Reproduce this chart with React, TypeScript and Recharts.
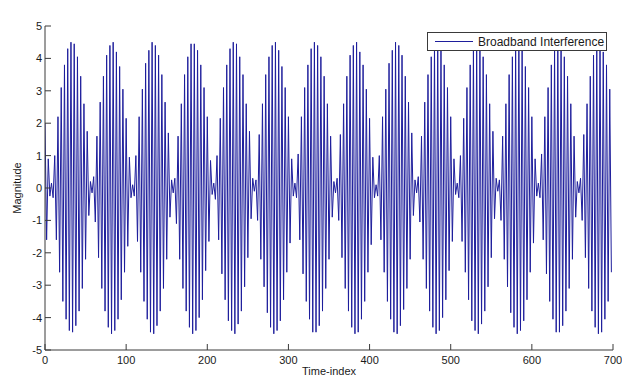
import React from 'react';
import { LineChart, Line, XAxis, YAxis, Legend, Label } from 'recharts';

// Sampled broadband interference (value read every 2 time-index units), one lobe per row
const SAMPLE_SPACING = 2;
const magnitude: number[] = [
  2.0, -1.6, 0.9, -0.25, 0.15, -0.3, 1.0, -1.6, 2.2, -2.6, 3.1, -3.5, 3.8, -4.05, 4.3, -4.4, 4.5, -4.45, 4.45, -4.25, 4.05, -3.8, 3.45, -3.1, 2.6,
  -2.2, 1.75, -0.85, 0.2, -0.15, 0.35, -1.05, 1.6, -2.15, 2.65, -3.1, 3.45, -3.8, 4.1, -4.3, 4.4, -4.5, 4.5, -4.4, 4.2, -4.05, 3.75, -3.45, 3.05, -2.6,
  2.15, -1.8, 0.95, -0.3, 0.1, -0.25, 1.0, -1.65, 2.2, -2.6, 3.05, -3.5, 3.85, -4.05, 4.25, -4.45, 4.5, -4.5, 4.4, -4.25, 4.1, -3.8, 3.5, -3.1, 2.65,
  -2.2, 1.7, -0.9, 0.25, -0.15, 0.3, -1.1, 1.6, -2.2, 2.6, -3.1, 3.5, -3.8, 4.05, -4.3, 4.45, -4.5, 4.45, -4.4, 4.25, -4.0, 3.8, -3.45, 3.1, -2.55,
  2.2, -1.65, 0.85, -0.2, 0.15, -0.35, 1.0, -1.6, 2.15, -2.65, 3.1, -3.45, 3.8, -4.1, 4.3, -4.4, 4.5, -4.5, 4.45, -4.2, 4.05, -3.8, 3.5, -3.05, 2.6,
  -2.15, 1.75, -0.95, 0.3, -0.1, 0.25, -1.0, 1.65, -2.2, 2.6, -3.05, 3.5, -3.85, 4.05, -4.3, 4.4, -4.5, 4.5, -4.4, 4.25, -4.1, 3.75, -3.45, 3.1, -2.6,
  2.2, -1.7, 0.9, -0.25, 0.15, -0.3, 1.05, -1.6, 2.2, -2.65, 3.1, -3.5, 3.8, -4.05, 4.3, -4.45, 4.5, -4.45, 4.4, -4.25, 4.05, -3.8, 3.45, -3.1, 2.6,
  -2.2, 1.6, -0.9, 0.2, -0.15, 0.3, -1.0, 1.65, -2.15, 2.6, -3.1, 3.45, -3.8, 4.1, -4.3, 4.4, -4.5, 4.5, -4.45, 4.2, -4.05, 3.8, -3.5, 3.05, -2.6,
  2.15, -1.75, 0.95, -0.3, 0.1, -0.25, 1.0, -1.6, 2.2, -2.6, 3.05, -3.5, 3.85, -4.05, 4.25, -4.45, 4.5, -4.5, 4.4, -4.25, 4.1, -3.75, 3.45, -3.1, 2.65,
  -2.2, 1.7, -0.85, 0.25, -0.15, 0.35, -1.05, 1.6, -2.2, 2.65, -3.1, 3.5, -3.8, 4.05, -4.3, 4.45, -4.5, 4.45, -4.4, 4.25, -4.0, 3.8, -3.45, 3.1, -2.55,
  2.2, -1.65, 0.9, -0.2, 0.15, -0.3, 1.0, -1.65, 2.15, -2.6, 3.1, -3.45, 3.8, -4.1, 4.3, -4.4, 4.5, -4.5, 4.45, -4.2, 4.05, -3.8, 3.5, -3.05, 2.6,
  -2.15, 1.75, -0.95, 0.3, -0.1, 0.25, -1.0, 1.6, -2.2, 2.6, -3.05, 3.5, -3.85, 4.05, -4.3, 4.4, -4.5, 4.5, -4.4, 4.25, -4.1, 3.75, -3.45, 3.1, -2.6,
  2.2, -1.7, 0.9, -0.25, 0.15, -0.3, 1.05, -1.6, 2.2, -2.65, 3.1, -3.5, 3.8, -4.05, 4.3, -4.45, 4.5, -4.45, 4.4, -4.25, 4.05, -3.8, 3.45, -3.1, 2.6,
  -2.2, 1.6, -0.9, 0.2, -0.15, 0.3, -1.0, 1.65, -2.15, 2.6, -3.1, 3.45, -3.8, 4.1, -4.3, 4.4, -4.5, 4.5, -4.45, 4.2, -4.05, 3.8, -3.5, 3.05, -2.6,
];

const xTicks = [0, 100, 200, 300, 400, 500, 600, 700];
const yTicks = [-5, -4, -3, -2, -1, 0, 1, 2, 3, 4, 5];
const TITLE = 'Simulated Broadband Interference';
const X_LABEL = 'Time-index';
const Y_LABEL = 'Magnitude';
const SERIES_NAME = 'Broadband Interference';

const data = magnitude.map((v, i) => ({ t: i * SAMPLE_SPACING, magnitude: v }));

const FONT = '"Liberation Sans", Arial, Helvetica, sans-serif';
const LINE_COLOR = '#1e1e9c';
const FRAME = '#3a3a3a';
const TEXT = '#1a1a1a';

const tickStyle = { fontSize: 11, fill: TEXT, fontFamily: FONT };

const LegendBox = () => (
  <div
    style={{
      width: 178,
      height: 17,
      border: `1px solid ${FRAME}`,
      background: '#fff',
      display: 'flex',
      alignItems: 'center',
      fontFamily: FONT,
      fontSize: 12,
      color: TEXT,
      boxSizing: 'content-box',
    }}
  >
    <svg width={48} height={17} style={{ display: 'block' }}>
      <line x1={7} y1={8.5} x2={45} y2={8.5} stroke={LINE_COLOR} strokeWidth={1} />
    </svg>
    <span style={{ marginLeft: 2, whiteSpace: 'nowrap' }}>{SERIES_NAME}</span>
  </div>
);

export default function App() {
  return (
    <div style={{ position: 'absolute', left: 0, top: 0, background: '#fff' }}>
      <LineChart
        width={622}
        height={376}
        data={data}
        margin={{ top: 26, right: 9, bottom: 0, left: 0 }}
      >
        <XAxis
          dataKey="t"
          type="number"
          domain={[0, 700]}
          ticks={xTicks}
          interval={0}
          allowDataOverflow
          height={26}
          tickSize={-6}
          tickMargin={12}
          tick={tickStyle}
          stroke={FRAME}
          axisLine={{ stroke: FRAME }}
          tickLine={{ stroke: FRAME }}
        >
          <Label
            content={() => (
              <text x={329} y={375} textAnchor="middle" fontSize={11} fontFamily={FONT} fill={TEXT}>
                {X_LABEL}
              </text>
            )}
          />
        </XAxis>
        <XAxis
          xAxisId="top"
          orientation="top"
          type="number"
          domain={[0, 700]}
          ticks={xTicks}
          interval={0}
          height={0}
          tickSize={-6}
          tick={false}
          axisLine={{ stroke: FRAME }}
          tickLine={{ stroke: FRAME }}
        >
          <Label
            content={() => (
              <text x={329} y={18} textAnchor="middle" fontSize={11} fontFamily={FONT} fill={TEXT}>
                {TITLE}
              </text>
            )}
          />
        </XAxis>
        <YAxis
          type="number"
          domain={[-5, 5]}
          ticks={yTicks}
          interval={0}
          allowDataOverflow
          width={45}
          tickSize={-6}
          tickMargin={9}
          tick={tickStyle}
          axisLine={{ stroke: FRAME }}
          tickLine={{ stroke: FRAME }}
        >
          <Label
            content={() => (
              <text
                x={21}
                y={188}
                textAnchor="middle"
                fontSize={11}
                fontFamily={FONT}
                fill={TEXT}
                transform="rotate(-90, 21, 188)"
              >
                {Y_LABEL}
              </text>
            )}
          />
        </YAxis>
        <YAxis
          yAxisId="right"
          orientation="right"
          type="number"
          domain={[-5, 5]}
          ticks={yTicks}
          interval={0}
          width={0}
          tickSize={-6}
          tick={false}
          axisLine={{ stroke: FRAME }}
          tickLine={{ stroke: FRAME }}
        />
        <Legend
          layout="horizontal"
          verticalAlign="middle"
          align="center"
          content={() => <LegendBox />}
          wrapperStyle={{ position: 'absolute', left: 427, top: 32, width: 180, height: 19 }}
        />
        <Line
          type="linear"
          dataKey="magnitude"
          name={SERIES_NAME}
          stroke={LINE_COLOR}
          strokeWidth={1}
          dot={false}
          activeDot={false}
          isAnimationActive={false}
        />
      </LineChart>
    </div>
  );
}
